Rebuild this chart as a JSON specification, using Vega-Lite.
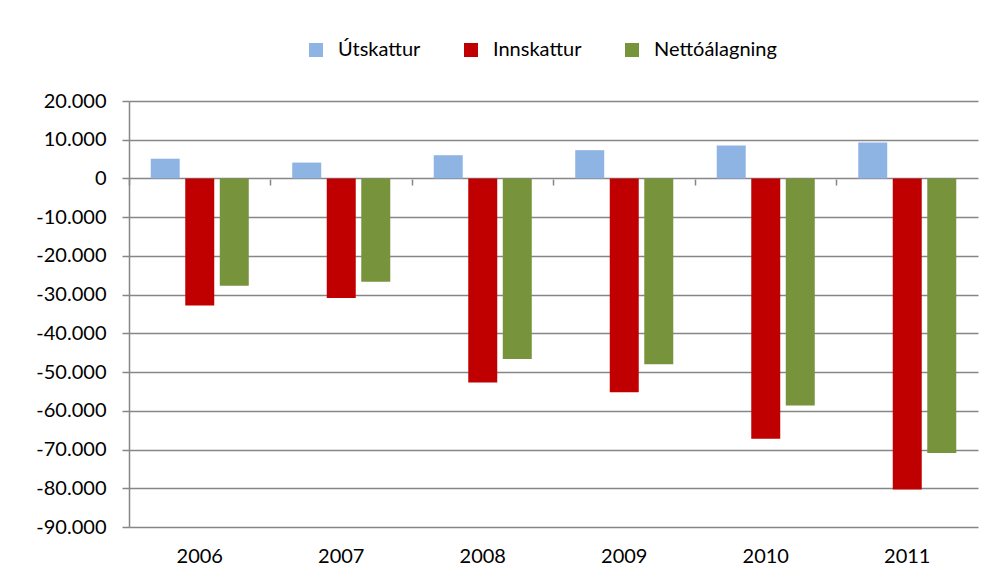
{
  "$schema": "https://vega.github.io/schema/vega-lite/v6.json",
  "width": 849,
  "height": 426,
  "autosize": {"type": "none"},
  "padding": {"left": 129, "top": 101, "right": 28, "bottom": 51},
  "background": "white",
  "config": {"view": {"stroke": null}, "font": "Lato"},
  "data": {
    "values": [
      {"ar": "2006", "flokkur": "Útskattur", "upphaed": 5100},
      {"ar": "2006", "flokkur": "Innskattur", "upphaed": -32800},
      {"ar": "2006", "flokkur": "Nettóálagning", "upphaed": -27700},
      {"ar": "2007", "flokkur": "Útskattur", "upphaed": 4100},
      {"ar": "2007", "flokkur": "Innskattur", "upphaed": -30900},
      {"ar": "2007", "flokkur": "Nettóálagning", "upphaed": -26700},
      {"ar": "2008", "flokkur": "Útskattur", "upphaed": 6000},
      {"ar": "2008", "flokkur": "Innskattur", "upphaed": -52700},
      {"ar": "2008", "flokkur": "Nettóálagning", "upphaed": -46600},
      {"ar": "2009", "flokkur": "Útskattur", "upphaed": 7300},
      {"ar": "2009", "flokkur": "Innskattur", "upphaed": -55200},
      {"ar": "2009", "flokkur": "Nettóálagning", "upphaed": -48000},
      {"ar": "2010", "flokkur": "Útskattur", "upphaed": 8500},
      {"ar": "2010", "flokkur": "Innskattur", "upphaed": -67200},
      {"ar": "2010", "flokkur": "Nettóálagning", "upphaed": -58600},
      {"ar": "2011", "flokkur": "Útskattur", "upphaed": 9300},
      {"ar": "2011", "flokkur": "Innskattur", "upphaed": -80300},
      {"ar": "2011", "flokkur": "Nettóálagning", "upphaed": -70900}
    ]
  },
  "encoding": {
    "y": {
      "field": "upphaed", "type": "quantitative",
      "scale": {"domain": [-90000, 20000], "nice": false, "zero": false},
      "axis": {
        "title": null,
        "values": [-90000, -80000, -70000, -60000, -50000, -40000, -30000, -20000, -10000, 0, 10000, 20000],
        "labelOverlap": false,
        "labelExpr": "replace(replace(format(datum.value, ','), ',', '.'), '\u2212', '-')",
        "grid": true, "gridColor": "#868686", "gridWidth": 1.5,
        "domainColor": "#868686", "domainWidth": 1.5,
        "tickColor": "#868686", "tickSize": 7, "tickWidth": 1.5,
        "labelFontSize": 20, "labelColor": "black", "labelPadding": 16
      }
    }
  },
  "layer": [
    {
      "mark": {"type": "bar"},
      "encoding": {
        "x": {
          "field": "ar", "type": "nominal",
          "scale": {"paddingInner": 0, "paddingOuter": 0},
          "axis": {"title": null, "labelAngle": 0, "domain": false, "ticks": false, "grid": false, "labelPadding": 19, "labelFontSize": 20, "labelColor": "black"}
        },
        "xOffset": {
          "field": "flokkur", "type": "nominal",
          "sort": ["Útskattur", "Innskattur", "Nettóálagning"],
          "scale": {"paddingInner": 0.16, "paddingOuter": 0.63}
        },
        "color": {
          "field": "flokkur", "type": "nominal",
          "scale": {"domain": ["Útskattur", "Innskattur", "Nettóálagning"], "range": ["#8EB4E3", "#C00000", "#77933C"]},
          "legend": {
            "title": null, "orient": "none", "legendX": 177, "legendY": -61,
            "direction": "horizontal", "symbolType": "square", "symbolSize": 196,
            "symbolStrokeWidth": 0, "labelFontSize": 20, "labelColor": "black",
            "labelOffset": 12, "columnPadding": 40
          }
        }
      }
    },
    {
      "mark": {"type": "bar", "opacity": 0},
      "encoding": {
        "x": {
          "field": "ar", "type": "nominal",
          "scale": {"paddingInner": 0, "paddingOuter": 0},
          "axis": {"title": null, "orient": "bottom", "offset": -348, "labels": false, "domain": false, "grid": false, "ticks": true, "bandPosition": 0, "tickSize": 6, "tickColor": "#868686", "tickWidth": 1.5}
        }
      }
    }
  ],
  "resolve": {"scale": {"x": "independent"}}
}
